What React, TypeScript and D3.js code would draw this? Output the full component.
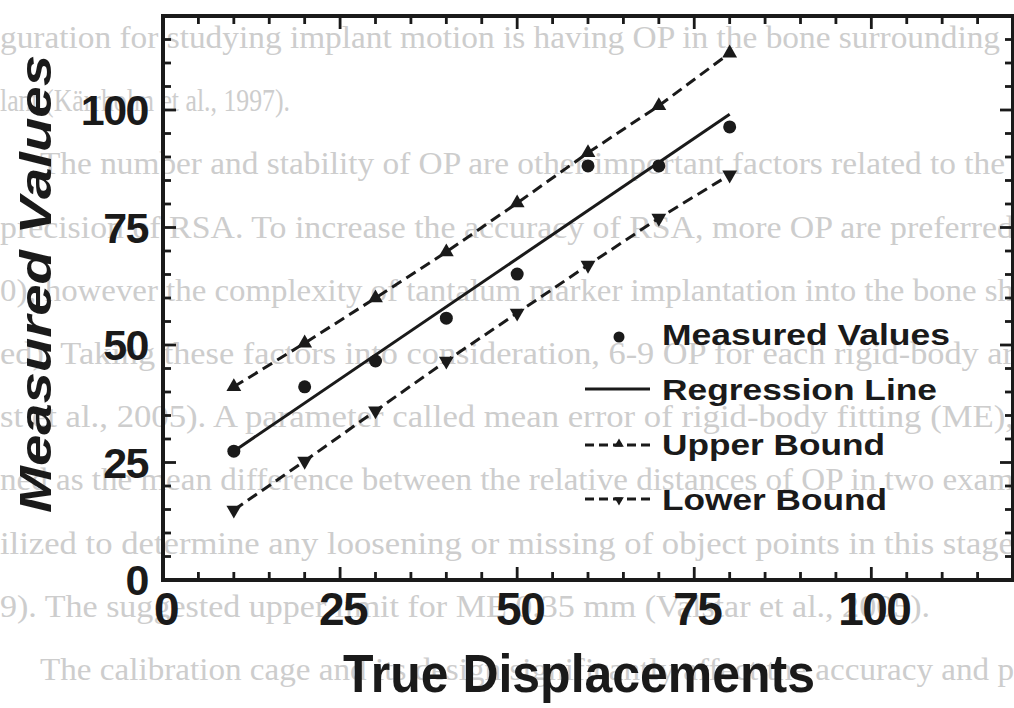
import * as d3 from 'd3'

// values
const xValues = [10, 20, 30, 40, 50, 60, 70, 80]
const measured = [27.4, 41.1, 46.6, 55.7, 65.1, 88.1, 88.1, 96.4]
const upperBound = [41.1, 50.4, 60.0, 69.8, 80.2, 90.9, 100.9, 112.1]
const lowerBound = [14.9, 25.3, 36.0, 46.6, 56.8, 67.0, 77.0, 86.2]
const regressionX = [10, 80]
const regressionY = [27.4, 99.1]
const tickLabels = [0, 25, 50, 75, 100]
const legendLabels = ['Measured Values', 'Regression Line', 'Upper Bound', 'Lower Bound']

// page text that shows through the scan
const pageLines = [
    'guration for studying implant motion is having OP in the bone surrounding',
    'lant (Kärrholm et al., 1997).',
    'The number and stability of OP are other important factors related to the',
    'precision of RSA. To increase the accuracy of RSA, more OP are preferred',
    '0); however the complexity of tantalum marker implantation into the bone sh',
    'ed). Taking these factors into consideration, 6-9 OP for each rigid-body ar',
    'st et al., 2005). A parameter called mean error of rigid-body fitting (ME),',
    'ned as the mean difference between the relative distances of OP in two exam',
    'ilized to determine any loosening or missing of object points in this stage',
    '9). The suggested upper limit for ME 0.35 mm (Valstar et al., 2005).',
    'The calibration cage and its design significantly affect the accuracy and p',
]

const W = 1014
const H = 708
const ink = '#1a1a1a'
const sans = '"Liberation Sans", Arial, sans-serif'

function App() {
    const x = d3.scaleLinear().domain([0, 120]).range([163, 1013])
    const y = d3.scaleLinear().domain([0, 120]).range([580, 16])

    const line = d3
        .line<[number, number]>()
        .x((d) => x(d[0]))
        .y((d) => y(d[1]))

    const pts = (vals: number[]) => xValues.map((v, i) => [v, vals[i]] as [number, number])
    const tri = d3.symbol().type(d3.symbolTriangle).size(95)()
    const triSmall = d3.symbol().type(d3.symbolTriangle).size(40)()

    const minor = d3.range(0, 121, 5)
    const left = x.range()[0]
    const right = x.range()[1]
    const top = y.range()[1]
    const bottom = y.range()[0]

    const lineStarts = [0, 0, 40, 0, 0, 0, 0, 0, 0, 0, 40]
    const lineEnds = [1000, 290, 1005, 1014, 1014, 1014, 1014, 1014, 1014, 930, 1014]

    const legendY = [345, 400, 455, 510]

    return (
        <svg
            width={W}
            height={H}
            style={{ position: 'absolute', left: 0, top: 0, background: '#fff' }}
        >
            <g fill="#cdcdcd" fontFamily='"Liberation Serif", "Times New Roman", serif' fontSize="31">
                {pageLines.map((t, i) => (
                    <text
                        key={i}
                        x={lineStarts[i]}
                        y={48 + i * 63.2}
                        textLength={lineEnds[i] - lineStarts[i]}
                        lengthAdjust="spacingAndGlyphs"
                    >
                        {t}
                    </text>
                ))}
            </g>

            {/* ticks on all four sides, pointing inward */}
            <g stroke={ink} strokeWidth="2.8">
                {minor.map((v) => {
                    const len = v % 25 === 0 ? 13 : 8
                    return (
                        <g key={v}>
                            <line x1={x(v)} x2={x(v)} y1={bottom} y2={bottom - len} />
                            <line x1={x(v)} x2={x(v)} y1={top} y2={top + len} />
                            <line x1={left} x2={left + len} y1={y(v)} y2={y(v)} />
                            <line x1={right} x2={right - len} y1={y(v)} y2={y(v)} />
                        </g>
                    )
                })}
            </g>
            <rect
                x={left}
                y={top}
                width={right - left}
                height={bottom - top}
                fill="none"
                stroke={ink}
                strokeWidth="4"
            />

            <g fontFamily={sans} fontWeight="bold" fill={ink}>
                {tickLabels.map((v) => (
                    <text key={'x' + v} x={x(v) + 3} y={625} fontSize="46" textAnchor="middle" letterSpacing="-1.5">
                        {v}
                    </text>
                ))}
                {tickLabels.map((v) => (
                    <text key={'y' + v} x={148} y={y(v) + 15} fontSize="43" textAnchor="end" letterSpacing="-1.5">
                        {v}
                    </text>
                ))}
                <text
                    x={579}
                    y={692}
                    fontSize="54"
                    textAnchor="middle"
                    textLength={472}
                    lengthAdjust="spacingAndGlyphs"
                >
                    True Displacements
                </text>
                <text
                    transform="translate(51,284) rotate(-90)"
                    fontSize="44"
                    fontStyle="italic"
                    textAnchor="middle"
                    textLength={458}
                    lengthAdjust="spacingAndGlyphs"
                >
                    Measured Values
                </text>
            </g>

            {/* series */}
            <path
                d={line(regressionX.map((v, i) => [v, regressionY[i]]) as [number, number][]) || ''}
                fill="none"
                stroke={ink}
                strokeWidth="3"
            />
            <path d={line(pts(upperBound)) || ''} fill="none" stroke={ink} strokeWidth="3" strokeDasharray="11,6" />
            <path d={line(pts(lowerBound)) || ''} fill="none" stroke={ink} strokeWidth="3" strokeDasharray="11,6" />
            {pts(measured).map((d, i) => (
                <circle key={'m' + i} cx={x(d[0])} cy={y(d[1])} r="6.5" fill={ink} />
            ))}
            {pts(upperBound).map((d, i) => (
                <path key={'u' + i} d={tri || ''} transform={`translate(${x(d[0])},${y(d[1])})`} fill={ink} />
            ))}
            {pts(lowerBound).map((d, i) => (
                <path
                    key={'l' + i}
                    d={tri || ''}
                    transform={`translate(${x(d[0])},${y(d[1])}) rotate(180)`}
                    fill={ink}
                />
            ))}

            {/* legend */}
            <g>
                <circle cx={619} cy={legendY[0] - 8} r="5.5" fill={ink} />
                <line x1={585} x2={650} y1={legendY[1] - 11} y2={legendY[1] - 11} stroke={ink} strokeWidth="3" />
                <line
                    x1={585}
                    x2={650}
                    y1={legendY[2] - 10}
                    y2={legendY[2] - 10}
                    stroke={ink}
                    strokeWidth="3"
                    strokeDasharray="9,5"
                />
                <path d={triSmall || ''} transform={`translate(619,${legendY[2] - 11})`} fill={ink} />
                <line
                    x1={585}
                    x2={650}
                    y1={legendY[3] - 11}
                    y2={legendY[3] - 11}
                    stroke={ink}
                    strokeWidth="3"
                    strokeDasharray="9,5"
                />
                <path d={triSmall || ''} transform={`translate(619,${legendY[3] - 10}) rotate(180)`} fill={ink} />
                {legendLabels.map((t, i) => (
                    <text
                        key={t}
                        x={662}
                        y={legendY[i]}
                        fontFamily={sans}
                        fontWeight="bold"
                        fontSize="30"
                        fill={ink}
                        textLength={[288, 275, 223, 225][i]}
                        lengthAdjust="spacingAndGlyphs"
                    >
                        {t}
                    </text>
                ))}
            </g>
        </svg>
    )
}

export default App
